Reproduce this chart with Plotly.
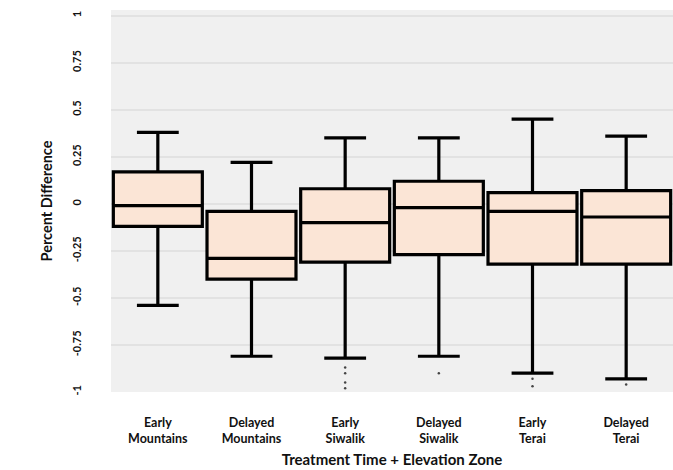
import plotly.graph_objects as go

# Category labels (two-line tick text)
groups = [
    "Early<br>Mountains",
    "Delayed<br>Mountains",
    "Early<br>Siwalik",
    "Delayed<br>Siwalik",
    "Early<br>Terai",
    "Delayed<br>Terai",
]

# Box statistics per group (percent difference, as a fraction)
upper_whisker = [0.38, 0.22, 0.35, 0.35, 0.45, 0.36]
q3_values = [0.17, -0.04, 0.08, 0.12, 0.06, 0.07]
median_values = [-0.01, -0.29, -0.10, -0.02, -0.04, -0.07]
q1_values = [-0.12, -0.40, -0.31, -0.27, -0.32, -0.32]
lower_whisker = [-0.54, -0.81, -0.82, -0.81, -0.90, -0.93]

# Outlying points below the lower whiskers
outlier_groups = [
    "Early<br>Siwalik", "Early<br>Siwalik", "Early<br>Siwalik", "Early<br>Siwalik",
    "Delayed<br>Siwalik",
    "Early<br>Terai", "Early<br>Terai",
    "Delayed<br>Terai",
]
outlier_values = [-0.87, -0.90, -0.95, -0.98, -0.90, -0.93, -0.97, -0.96]

y_ticks = [-1, -0.75, -0.5, -0.25, 0, 0.25, 0.5, 0.75, 1]
y_tick_text = ["-1", "-0.75", "-0.5", "-0.25", "0", "0.25", "0.5", "0.75", "1"]

FONT = "Lato"
TEXT = "#111111"

fig = go.Figure()

fig.add_trace(go.Box(
    x=groups,
    q1=q1_values,
    median=median_values,
    q3=q3_values,
    lowerfence=lower_whisker,
    upperfence=upper_whisker,
    width=0.95,
    fillcolor="#fbe5d6",
    line=dict(color="#000000", width=3.2),
    whiskerwidth=0.47,
    boxpoints=False,
    showlegend=False,
    hoverinfo="skip",
))

fig.add_trace(go.Scatter(
    x=outlier_groups,
    y=outlier_values,
    mode="markers",
    marker=dict(color="#444444", size=2.5),
    showlegend=False,
    hoverinfo="skip",
))

fig.update_layout(
    width=673,
    height=470,
    margin=dict(l=111, r=0, t=10, b=78),
    paper_bgcolor="#ffffff",
    plot_bgcolor="#f0f0f0",
    font=dict(family=FONT, color=TEXT),
    xaxis=dict(
        type="category",
        categoryorder="array",
        categoryarray=groups,
        range=[-0.5, 5.5],
        showgrid=False,
        zeroline=False,
        showline=False,
        ticks="",
        ticklabelstandoff=21,
        tickfont=dict(family=FONT, size=12.5, weight="bold", color=TEXT),
        title=dict(
            text="Treatment Time + Elevation Zone",
            font=dict(family=FONT, size=15, weight="bold", color=TEXT),
            standoff=9,
        ),
    ),
    yaxis=dict(
        range=[-1.0, 1.03],
        tickvals=y_ticks,
        ticktext=y_tick_text,
        tickangle=-90,
        showgrid=True,
        gridcolor="#e2e2e2",
        gridwidth=1.5,
        zeroline=False,
        showline=False,
        ticks="",
        ticklabelstandoff=27,
        tickfont=dict(family=FONT, size=11, weight="bold", color=TEXT),
        title=dict(
            text="Percent Difference",
            font=dict(family=FONT, size=14.5, weight="bold", color=TEXT),
            standoff=13,
        ),
    ),
)

fig.write_html("out.html")
